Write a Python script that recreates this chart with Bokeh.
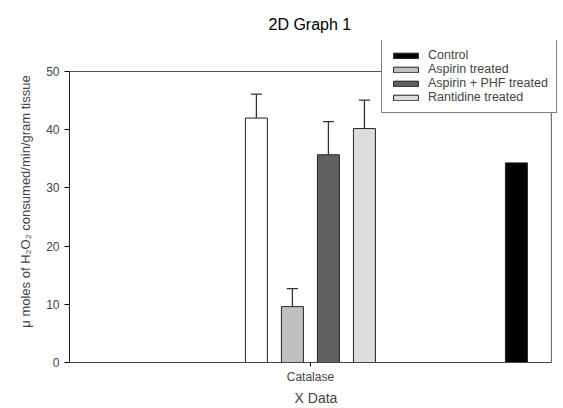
from bokeh.plotting import figure
from bokeh.models import (ColumnDataSource, FixedTicker, Legend, LegendItem, Range1d,
                          Whisker, TeeHead)
from bokeh.embed import file_html
from bokeh.resources import INLINE

# ---- data ----
bar_labels = ["Unlabelled", "Aspirin treated", "Aspirin + PHF treated", "Rantidine treated", "Control"]
bar_values = [42.0, 9.6, 35.7, 40.2, 34.3]
bar_upper = [46.1, 12.7, 41.4, 45.1, None]
bar_positions = [-1.5, -0.5, 0.5, 1.5, 5.72]
bar_colors = ["#ffffff", "#c0c0c0", "#606060", "#dcdcdc", "#000000"]
category_ticks = [0]
category_labels = ["Catalase"]
y_ticks = [0, 10, 20, 30, 40, 50]

FONT = "Liberation Sans"

# axis box (data) and the extra room kept for the legend, which sticks out of the box
X_MIN, X_MAX = -6.69, 6.69
Y_MIN, Y_MAX = 0, 50
X_ROOM, Y_ROOM = 7.0, 55.33

p = figure(width=563, height=408, output_backend="svg", toolbar_location=None,
           x_range=Range1d(X_MIN, X_ROOM), y_range=Range1d(Y_MIN, Y_ROOM),
           min_border_left=69, min_border_right=1, min_border_top=40, min_border_bottom=46)
p.background_fill_color = "white"
p.border_fill_color = "white"
p.outline_line_color = None
p.xgrid.visible = False
p.ygrid.visible = False

p.title.text = "2D Graph 1"
p.title.align = "left"
p.title.text_font = FONT
p.title.text_font_size = "16px"
p.title.text_font_style = "normal"
p.title.text_color = "#000000"
p.title.offset = 199
p.title.standoff = 15

# frame box of the axes
p.quad(left=[X_MIN], right=[X_MAX], bottom=[Y_MIN], top=[Y_MAX],
       fill_color=None, line_color="#555555", line_width=1)

renderers = []
for lab, v, x, c in zip(bar_labels, bar_values, bar_positions, bar_colors):
    src = ColumnDataSource(dict(x=[x], top=[v]))
    r = p.vbar(x="x", top="top", bottom=0, width=0.61, source=src,
               fill_color=c, line_color="#222222", line_width=1)
    renderers.append(r)

ex, ey0, ey1 = [], [], []
for x, v, u in zip(bar_positions, bar_values, bar_upper):
    if u is not None:
        ex.append(x); ey0.append(v); ey1.append(u)
err = ColumnDataSource(dict(base=ex, lower=ey0, upper=ey1))
wh = Whisker(base="base", lower="lower", upper="upper", source=err,
             line_color="#333333", line_width=1.3,
             upper_head=TeeHead(size=11, line_color="#333333", line_width=1.3),
             lower_head=None)
p.add_layout(wh)

# axes
p.yaxis.ticker = FixedTicker(ticks=y_ticks)
p.yaxis.bounds = (Y_MIN, Y_MAX)
p.yaxis.axis_label = "μ moles of H₂O₂ consumed/min/gram tissue"
p.yaxis.axis_label_text_font = FONT
p.yaxis.axis_label_text_font_style = "normal"
p.yaxis.axis_label_text_font_size = "13px"
p.yaxis.axis_label_standoff = 10
p.yaxis.major_label_text_font = FONT
p.yaxis.major_label_text_font_size = "12px"
p.yaxis.major_label_standoff = 5
p.yaxis.major_tick_out = 5
p.yaxis.major_tick_in = 0
p.yaxis.minor_tick_line_color = None
p.yaxis.axis_line_color = "#222222"

p.xaxis.ticker = FixedTicker(ticks=category_ticks)
p.xaxis.bounds = (X_MIN, X_MAX)
p.xaxis.major_label_overrides = {t: l for t, l in zip(category_ticks, category_labels)}
p.xaxis.axis_label = "X Data"
p.xaxis.axis_label_text_font = FONT
p.xaxis.axis_label_text_font_style = "normal"
p.xaxis.axis_label_text_font_size = "14px"
p.xaxis.axis_label_standoff = 3
p.xaxis.major_label_text_font = FONT
p.xaxis.major_label_text_font_size = "12px"
p.xaxis.major_label_standoff = 3
p.xaxis.major_tick_out = 4
p.xaxis.major_tick_in = 0
p.xaxis.minor_tick_line_color = None
p.xaxis.axis_line_color = "#444444"

# legend: Control first, then treated groups (unlabelled bar excluded)
order = [4, 1, 2, 3]
items = [LegendItem(label=bar_labels[i], renderers=[renderers[i]]) for i in order]
legend = Legend(items=items, location=(312, 249), orientation="vertical",
                glyph_width=31, glyph_height=7, label_height=12, spacing=0,
                padding=8, margin=0, label_standoff=7,
                label_text_font=FONT, label_text_font_size="12.5px",
                border_line_color="#000000", border_line_width=1,
                background_fill_color="white", background_fill_alpha=1.0)
p.add_layout(legend, "center")

open("out.html", "w").write(file_html(p, INLINE))
